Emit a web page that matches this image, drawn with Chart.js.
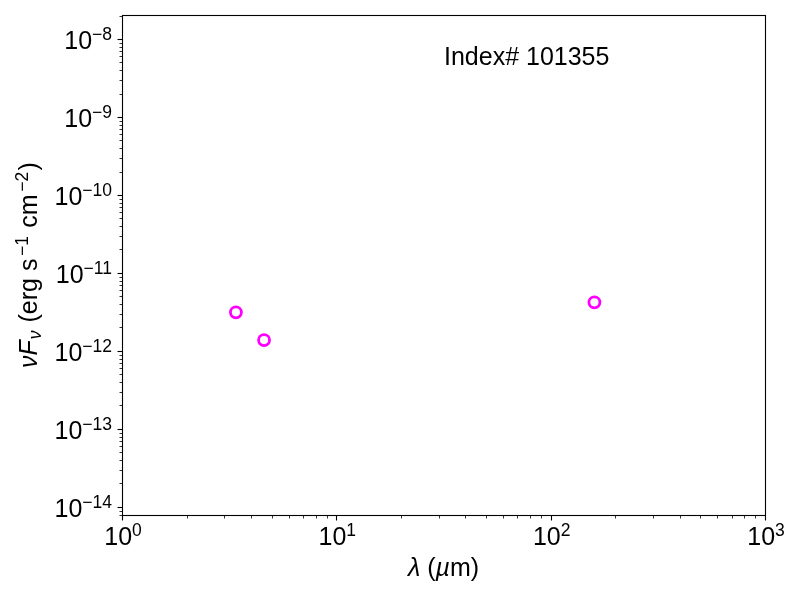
<!DOCTYPE html>
<html>
<head>
<meta charset="utf-8">
<script src="https://cdn.jsdelivr.net/npm/chart.js@4/dist/chart.umd.min.js"></script>
<style>
  html, body { margin: 0; padding: 0; background: #ffffff; }
  #wrap { width: 800px; height: 600px; }
</style>
</head>
<body>
<div id="wrap"><canvas id="sed" width="800" height="600"></canvas></div>
<script>
// -- DATA ----------------------------------------------
const wavelengths = [3.4, 4.6, 160];
const fluxes = [3.13e-12, 1.38e-12, 4.21e-12];

const xRange = [1, 1000];
const yRange = [7.89e-15, 2.03e-8];

const xMajorTicks = [1, 10, 100, 1000];
const xTickExponents = ["0", "1", "2", "3"];
const yMajorTicks = [1e-14, 1e-13, 1e-12, 1e-11, 1e-10, 1e-9, 1e-8];
const yTickExponents = ["\u221214", "\u221213", "\u221212", "\u221211", "\u221210", "\u22129", "\u22128"];

const annotationText = "Index# 101355";

// -- HELPERS -------------------------------------------
const FONT = "'Liberation Sans', Arial, Helvetica, sans-serif";
const BIG = 25;
const SMALL = 17.5;

function fontFor(part) {
  return (part.italic ? "italic " : "") + (part.size || BIG) + "px " + FONT;
}

function partWidth(ctx, p) {
  ctx.font = fontFor(p);
  return ctx.measureText(p.t).width + (p.gapBefore || 0) + (p.gapAfter || 0);
}

function drawRich(ctx, parts, x, y, align) {
  const total = parts.reduce((w, p) => w + partWidth(ctx, p), 0);
  let cx = x;
  if (align === "center") cx = x - total / 2;
  if (align === "right") cx = x - total;
  ctx.textBaseline = "alphabetic";
  ctx.textAlign = "left";
  parts.forEach((p) => {
    ctx.font = fontFor(p);
    cx += p.gapBefore || 0;
    ctx.fillText(p.t, cx, y + (p.dy || 0));
    cx += ctx.measureText(p.t).width + (p.gapAfter || 0);
  });
}

function minorTicks(range) {
  const out = [];
  const lo = Math.floor(Math.log10(range[0]));
  const hi = Math.ceil(Math.log10(range[1]));
  for (let e = lo; e < hi; e++) {
    for (let m = 2; m <= 9; m++) {
      const v = m * Math.pow(10, e);
      if (v >= range[0] && v <= range[1]) out.push(v);
    }
  }
  return out;
}

// -- AXES PLUGIN ---------------------------------------
const axesFrame = {
  id: "axesFrame",
  afterDraw(chart) {
    const ctx = chart.ctx;
    const area = chart.chartArea;
    const xs = chart.scales.x;
    const ys = chart.scales.y;
    ctx.save();
    ctx.strokeStyle = "#000000";
    ctx.fillStyle = "#000000";

    // frame
    ctx.lineWidth = 1.1;
    ctx.strokeRect(Math.round(area.left) + 0.5, Math.round(area.top) + 0.5,
      Math.round(area.right - area.left), Math.round(area.bottom - area.top));

    const bottom = Math.round(area.bottom) + 0.5;
    const left = Math.round(area.left) + 0.5;

    // x ticks
    ctx.lineWidth = 1.1;
    xMajorTicks.forEach((v) => {
      const px = Math.round(xs.getPixelForValue(v)) + 0.5;
      ctx.beginPath(); ctx.moveTo(px, bottom); ctx.lineTo(px, bottom + 5); ctx.stroke();
    });
    ctx.lineWidth = 0.8;
    minorTicks(xRange).forEach((v) => {
      const px = Math.round(xs.getPixelForValue(v)) + 0.5;
      ctx.beginPath(); ctx.moveTo(px, bottom); ctx.lineTo(px, bottom + 3); ctx.stroke();
    });

    // y ticks
    ctx.lineWidth = 1.1;
    yMajorTicks.forEach((v) => {
      const py = Math.round(ys.getPixelForValue(v)) + 0.5;
      ctx.beginPath(); ctx.moveTo(left, py); ctx.lineTo(left - 5, py); ctx.stroke();
    });
    ctx.lineWidth = 0.8;
    minorTicks(yRange).forEach((v) => {
      const py = Math.round(ys.getPixelForValue(v)) + 0.5;
      ctx.beginPath(); ctx.moveTo(left, py); ctx.lineTo(left - 3, py); ctx.stroke();
    });

    // tick labels
    xMajorTicks.forEach((v, i) => {
      const px = xs.getPixelForValue(v);
      drawRich(ctx, [{ t: "10" }, { t: xTickExponents[i], size: SMALL, dy: -9 }],
        px + 1, area.bottom + 30, "center");
    });
    yMajorTicks.forEach((v, i) => {
      const py = ys.getPixelForValue(v);
      drawRich(ctx, [{ t: "10" }, { t: yTickExponents[i], size: SMALL, dy: -9 }],
        area.left - 10, py + 10.3, "right");
    });

    // axis titles
    drawRich(ctx, [
      { t: "\u03bb", italic: true }, { t: " (" }, { t: "\u00b5", italic: true }, { t: "m)" }
    ], (area.left + area.right) / 2, 576, "center");

    ctx.save();
    ctx.translate(36.5, (area.top + area.bottom) / 2);
    ctx.rotate(-Math.PI / 2);
    drawRich(ctx, [
      { t: "\u03bd", italic: true }, { t: "F", italic: true },
      { t: "\u03bd", italic: true, size: SMALL, dy: 4, gapBefore: 1, gapAfter: 1 },
      { t: " (erg s" }, { t: "\u22121", size: SMALL, dy: -9, gapBefore: 2.5, gapAfter: 1.5 },
      { t: " cm" }, { t: "\u22122", size: SMALL, dy: -9, gapBefore: 2.5, gapAfter: 1.5 }, { t: ")" }
    ], 0, 0, "center");
    ctx.restore();

    // annotation
    drawRich(ctx, [{ t: annotationText }], 444, 65, "left");

    ctx.restore();
  }
};

// -- RENDER --------------------------------------------
function createSedChart() {
  const ctx = document.getElementById("sed");
  return new Chart(ctx, {
    type: "scatter",
    data: {
      datasets: [
        {
          data: wavelengths.map((w, i) => ({ x: w, y: fluxes[i] })),
          pointStyle: "circle",
          pointRadius: 5.5,
          pointHoverRadius: 5.5,
          borderWidth: 2.8,
          borderColor: "#ff00ff",
          backgroundColor: "rgba(0,0,0,0)"
        }
      ]
    },
    options: {
      responsive: false,
      animation: false,
      devicePixelRatio: 1,
      layout: { padding: { left: 122, right: 35, top: 15, bottom: 85 } },
      scales: {
        x: { type: "logarithmic", min: xRange[0], max: xRange[1], bounds: "data", display: false },
        y: { type: "logarithmic", min: yRange[0], max: yRange[1], bounds: "data", display: false }
      },
      plugins: {
        legend: { display: false },
        tooltip: { enabled: false }
      }
    },
    plugins: [axesFrame]
  });
}

createSedChart();
</script>
</body>
</html>
